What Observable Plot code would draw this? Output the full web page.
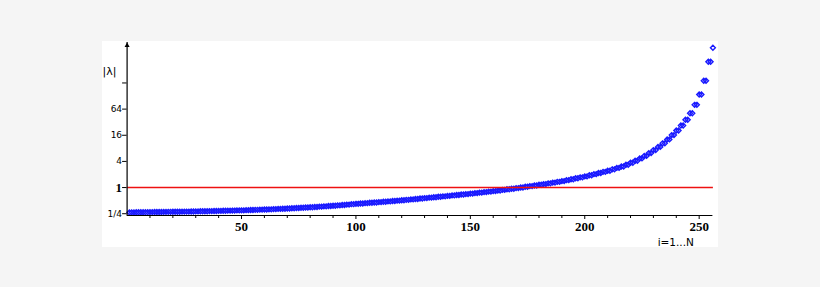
<!DOCTYPE html>
<html><head><meta charset="utf-8">
<script src="https://cdn.jsdelivr.net/npm/d3@7"></script>
<script src="https://cdn.jsdelivr.net/npm/@observablehq/plot@0.6"></script>
<style>
html,body{margin:0;padding:0;background:#f5f5f5;width:820px;height:287px;overflow:hidden;}
#panel{position:absolute;left:102px;top:41px;width:616px;height:206px;background:#fff;overflow:hidden;}
#panel svg{overflow:hidden;}
</style></head><body><div id="panel"></div>
<script>
// |λ_i| for i = 1..256
const lambda = [
  0.268,
  0.269, 0.269, 0.270, 0.270, 0.2705, 0.2705, 0.271, 0.271, 0.272, 0.272,
  0.273, 0.273, 0.274, 0.274, 0.275, 0.275, 0.2757, 0.2757, 0.2765, 0.2765,
  0.2777, 0.2777, 0.2789, 0.2789, 0.280, 0.280, 0.2812, 0.2812, 0.2824, 0.2824,
  0.2839, 0.2839, 0.2854, 0.2854, 0.287, 0.287, 0.2885, 0.2885, 0.290, 0.290,
  0.2918, 0.2918, 0.2936, 0.2936, 0.2954, 0.2954, 0.2972, 0.2972, 0.299, 0.299,
  0.3016, 0.3016, 0.3042, 0.3042, 0.3068, 0.3068, 0.3094, 0.3094, 0.312, 0.312,
  0.3153, 0.3153, 0.3187, 0.3187, 0.3221, 0.3221, 0.3255, 0.3255, 0.329, 0.329,
  0.3333, 0.3333, 0.3376, 0.3376, 0.342, 0.342, 0.3465, 0.3465, 0.351, 0.351,
  0.357, 0.357, 0.3631, 0.3631, 0.3693, 0.3693, 0.3756, 0.3756, 0.382, 0.382,
  0.3898, 0.3898, 0.3977, 0.3977, 0.4058, 0.4058, 0.4141, 0.4141, 0.4225, 0.4225,
  0.4302, 0.4302, 0.438, 0.438, 0.446, 0.446, 0.4541, 0.4541, 0.4624, 0.4624,
  0.4713, 0.4713, 0.4804, 0.4804, 0.4897, 0.4897, 0.4991, 0.4991, 0.5087, 0.5087,
  0.5207, 0.5207, 0.533, 0.533, 0.5456, 0.5456, 0.5584, 0.5584, 0.5716, 0.5716,
  0.5851, 0.5851, 0.599, 0.599, 0.6132, 0.6132, 0.6277, 0.6277, 0.6424, 0.6424,
  0.6583, 0.6583, 0.6745, 0.6745, 0.6912, 0.6912, 0.7082, 0.7082, 0.7257, 0.7257,
  0.7452, 0.7452, 0.7652, 0.7652, 0.7858, 0.7858, 0.8069, 0.8069, 0.8285, 0.8285,
  0.8553, 0.8553, 0.8829, 0.8829, 0.9114, 0.9114, 0.9409, 0.9409, 0.971, 0.971,
  1.006, 1.006, 1.042, 1.042, 1.079, 1.079, 1.117, 1.117, 1.157, 1.157,
  1.203, 1.203, 1.251, 1.251, 1.302, 1.302, 1.354, 1.354, 1.408, 1.408,
  1.480, 1.480, 1.556, 1.556, 1.635, 1.635, 1.719, 1.719, 1.806, 1.806,
  1.919, 1.919, 2.038, 2.038, 2.165, 2.165, 2.300, 2.300, 2.443, 2.443,
  2.631, 2.631, 2.834, 2.834, 3.053, 3.053, 3.35, 3.35, 3.714, 3.714,
  4.152, 4.152, 4.69, 4.69, 5.355, 5.355, 6.21, 6.21, 7.28, 7.28,
  8.63, 8.63, 10.44, 10.44, 12.84, 12.84, 16.13, 16.13, 20.58, 20.58,
  26.8, 26.8, 36.3, 36.3, 51.5, 51.5, 80.4, 80.4, 138.8, 138.8,
  287, 287, 786, 786,
  1651
];
const yTickValues = [0.25, 1, 4, 16, 64, 256];
const yTickLabels = ["1/4", "1", "4", "16", "64", ""];
const xMinorTicks = [10, 20, 30, 40, 60, 70, 80, 90, 110, 120, 130, 140, 160, 170, 180, 190, 210, 220, 230, 240];
const xMajorTicks = [50, 100, 150, 200, 250];
const yAxisTitle = "|λ|";
const xAxisTitle = "i=1...N";
const referenceLevel = [1];
const xDomain = [0, 256];
const yDomain = [0.2273, 2187];

const data = lambda.map((v, k) => ({i: k + 1, v}));
const yLabels = yTickValues.map((v, k) => ({v, label: yTickLabels[k]}));

const chart = Plot.plot({
  width: 616, height: 206,
  marginLeft: 24.6, marginRight: 5.6, marginTop: 1, marginBottom: 32,
  x: {domain: xDomain},
  y: {type: "log", domain: yDomain},
  style: {background: "transparent", overflow: "hidden"},
  marks: [
    Plot.dot(data, {x: "i", y: "v", symbol: d3.symbolDiamond2, r: 2.2, stroke: "#1a1aff", strokeWidth: 1.4, fill: "none"}),
    Plot.link(referenceLevel, {x1: xDomain[0], x2: xDomain[1], y1: d => d, y2: d => d, stroke: "#ee1111", strokeWidth: 1.5}),
    Plot.ruleY([yDomain[0]], {stroke: "black", strokeWidth: 1.2}),
    Plot.ruleX([0], {stroke: "black", strokeWidth: 1.2}),
    Plot.axisX({ticks: xMinorTicks, tickSize: 3, tickFormat: () => "", label: null}),
    Plot.axisX({ticks: xMajorTicks, tickSize: 4, tickFormat: () => "", label: null}),
    Plot.text(xMajorTicks, {x: d => d, frameAnchor: "bottom", dy: 11, lineAnchor: "middle",
      fontFamily: "Liberation Serif", fontWeight: "bold", fontSize: 13, fill: "black"}),
    Plot.axisY({ticks: yTickValues, tickSize: 4.5, tickFormat: () => "", label: null}),
    Plot.text(yLabels.filter(d => d.v !== 1), {y: "v", text: "label", frameAnchor: "left", dx: -5,
      textAnchor: "end", lineAnchor: "middle", fontFamily: "DejaVu Sans", fontSize: 9, fill: "black"}),
    Plot.text(yLabels.filter(d => d.v === 1), {y: "v", text: "label", frameAnchor: "left", dx: -5,
      textAnchor: "end", lineAnchor: "middle", fontFamily: "Liberation Serif", fontWeight: "bold", fontSize: 13, fill: "black"}),
    Plot.dot([0], {x: d => d, frameAnchor: "top", dy: 3, symbol: "triangle", r: 1.9, fill: "black"}),
    Plot.text([yAxisTitle], {frameAnchor: "top-left", dx: -24.6, dy: 29, textAnchor: "start", lineAnchor: "middle",
      fontFamily: "DejaVu Sans", fontSize: 11, fill: "black"}),
    Plot.text([xAxisTitle], {frameAnchor: "bottom-right", dx: -19, dy: 30.5, textAnchor: "end", lineAnchor: "bottom",
      fontFamily: "DejaVu Sans", fontSize: 10.5, fill: "black"})
  ]
});
document.getElementById("panel").appendChild(chart);
</script></body></html>
